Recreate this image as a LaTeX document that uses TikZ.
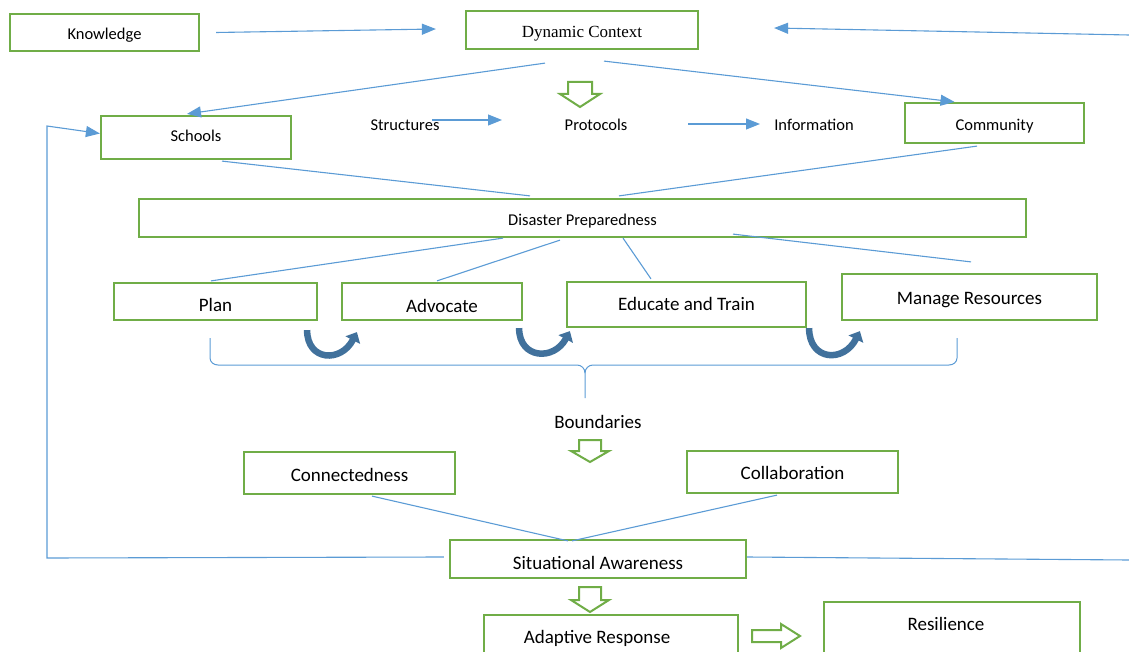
\documentclass[tikz,border=0pt]{standalone}
\usepackage{fontspec}
\setmainfont{Carlito}
\newfontfamily\timesfont{Liberation Serif}
\usetikzlibrary{arrows.meta,calc}
\definecolor{boxgreen}{RGB}{112,173,71}
\definecolor{lineblue}{RGB}{91,155,213}
\definecolor{curveblue}{RGB}{65,113,156}
\tikzset{
  box/.style={draw=boxgreen,line width=2.2pt,inner sep=0pt,fill=white},
  th/.style={text height=#1,text depth=0pt},
  big/.style={font=\fontsize{19}{22}\selectfont},
  small/.style={font=\fontsize{16.5}{19}\selectfont},
  conn/.style={draw=lineblue,line width=1.1pt},
  arr/.style={conn,-{Triangle[length=14pt,width=11pt]}},
  curvearr/.style={draw=curveblue,line width=6.5pt,-{Triangle[length=9pt,width=16pt]}},
  hollow/.style={draw=boxgreen,line width=2pt,fill=white,line join=miter},
}
\begin{document}
\begin{tikzpicture}[x=1pt,y=-1pt]
\useasboundingbox (0,0) rectangle (1129,652);
% boxes
\node[box,small,th=13.4pt,minimum width=189pt,minimum height=37pt] (kn) at (104.5,32.5) {Knowledge};
\node[box,th=15.8pt,minimum width=232pt,minimum height=38pt,font=\timesfont\fontsize{17}{20}\selectfont] (dc) at (582,30) {Dynamic Context};
\node[box,small,th=7.4pt,minimum width=190pt,minimum height=43pt] (sch) at (196,137.5) {Schools};
\node[box,small,th=14.4pt,minimum width=179pt,minimum height=40pt] (com) at (994.5,123) {Community};
\node[small] (str) at (405,125) {Structures};
\node[small] (pro) at (596,125) {Protocols};
\node[small] (inf) at (814,125) {Information};
\node[box,small,th=14.4pt,minimum width=887pt,minimum height=38pt] (dp) at (582.5,218) {Disaster Preparedness};
\node[box,big,th=19.3pt,minimum width=203pt,minimum height=37pt] (plan) at (215.5,301.5) {Plan};
\node[box,big,th=21.3pt,minimum width=180pt,minimum height=37pt] (adv) at (432,301.5) {\hspace*{20pt}Advocate};
\node[box,big,th=11.3pt,minimum width=239pt,minimum height=45pt] (edu) at (686.5,304.5) {Educate and Train};
\node[box,big,th=14.3pt,minimum width=255pt,minimum height=46pt] (man) at (969.5,297) {Manage Resources};
\node[big] (bnd) at (598,421.5) {Boundaries};
\node[box,big,th=16.3pt,minimum width=211pt,minimum height=42pt] (con) at (349.5,473) {Connectedness};
\node[box,big,th=15.5pt,minimum width=211pt,minimum height=42pt] (col) at (792.5,472) {Collaboration};
\node[box,big,th=20.3pt,minimum width=296pt,minimum height=38pt] (sa) at (598,559) {Situational Awareness};
\node[box,minimum width=254pt,minimum height=50pt,anchor=north] (ar) at (611,614) {};
\node[big] (artxt) at (597,638) {Adaptive Response};
\node[box,minimum width=256pt,minimum height=60pt,anchor=north] (res) at (952,601) {};
\node[big] (restxt) at (946,624) {Resilience};
% free ends
\coordinate (rin) at (1129,35);
\coordinate (rout) at (1129,560);
\coordinate (lc1) at (47,558);
\coordinate (lc2) at (47,126);
% connectors
\draw[arr] ([xshift=16pt]kn.east) -- ([xshift=-29pt,yshift=1pt]dc.west);
\draw[arr] (rin) -- ([xshift=75pt,yshift=2pt]dc.east);
\draw[arr] ([xshift=-37pt,yshift=-13pt]dc.south) -- ([xshift=-9pt,yshift=1pt]sch.north);
\draw[arr] ([xshift=22pt,yshift=-11pt]dc.south) -- ([xshift=-40pt]com.north);
\draw[arr] ([xshift=27pt,yshift=5pt]str.center) -- ([xshift=-94pt,yshift=5pt]pro.center);
\draw[arr] ([xshift=92pt,yshift=1pt]pro.center) -- ([xshift=-54pt,yshift=1pt]inf.center);
\draw[conn] ([xshift=26pt,yshift=-1pt]sch.south) -- ([xshift=-52.5pt,yshift=2pt]dp.north);
\draw[conn] ([xshift=-17.5pt,yshift=-2pt]com.south) -- ([xshift=36.5pt,yshift=2pt]dp.north);
\draw[conn] ([xshift=-79.5pt]dp.south) -- ([xshift=-4.5pt,yshift=1pt]plan.north);
\draw[conn] ([xshift=-22.5pt,yshift=-2pt]dp.south) -- ([xshift=5pt,yshift=1pt]adv.north);
\draw[conn] ([xshift=40.5pt]dp.south) -- ([xshift=-35.5pt,yshift=2pt]edu.north);
\draw[conn] ([xshift=150.5pt,yshift=4pt]dp.south) -- ([xshift=1.5pt,yshift=11pt]man.north);
\draw[conn] ([xshift=22.5pt,yshift=-1pt]con.south) -- ([xshift=-30pt,yshift=-2pt]sa.north);
\draw[conn] ([xshift=-15.5pt,yshift=-1pt]col.south) -- ([xshift=-26pt,yshift=-2pt]sa.north);
\draw[arr] ([xshift=-5pt,yshift=2pt]sa.west) -- (lc1) -- (lc2) -- ([yshift=4pt]sch.west);
\draw[conn] ([yshift=2pt]sa.east) -- (rout);
% curved arrows (plan -> advocate -> educate -> manage)
\coordinate (c1s) at ([xshift=-11pt,yshift=-9pt]plan.south east);
\coordinate (c1e) at ([xshift=16pt,yshift=-11pt]adv.south west);
\coordinate (c2s) at ([xshift=-4pt,yshift=-7pt]adv.south east);
\coordinate (c2e) at ([xshift=4pt,yshift=-3pt]edu.south west);
\coordinate (c3s) at ([xshift=2pt,yshift=0pt]edu.south east);
\coordinate (c3e) at ([xshift=19pt,yshift=-10pt]man.south west);
\draw[curvearr] (c1s) .. controls +(0,31) and +(-16,31) .. (c1e);
\draw[curvearr] (c2s) .. controls +(0,31) and +(-16,30) .. (c2e);
\draw[curvearr] (c3s) .. controls +(0,33) and +(-16,32) .. (c3e);
% brace
\draw[conn,line width=1pt] (210,338) -- (210,358) to[out=-90,in=180] (218,365) -- (577,365) to[out=0,in=90] (585,373) -- (585,398);
\draw[conn,line width=1pt] (957,338) -- (957,358) to[out=-90,in=0] (949,365) -- (593,365) to[out=180,in=90] (585,373);
% hollow block arrows
\draw[hollow] (568,82) -- (592,82) -- (592,94) -- (600,94) -- (580,107) -- (560,94) -- (568,94) -- cycle;
\draw[hollow] (579,440) -- (601,440) -- (601,451) -- (609,451) -- (590,462) -- (571,451) -- (579,451) -- cycle;
\draw[hollow] (579,587) -- (601,587) -- (601,600) -- (609,600) -- (590,612) -- (571,600) -- (579,600) -- cycle;
\draw[hollow] (752,630) -- (781,630) -- (781,624) -- (800,636) -- (781,648) -- (781,642) -- (752,642) -- cycle;
\end{tikzpicture}
\end{document}
